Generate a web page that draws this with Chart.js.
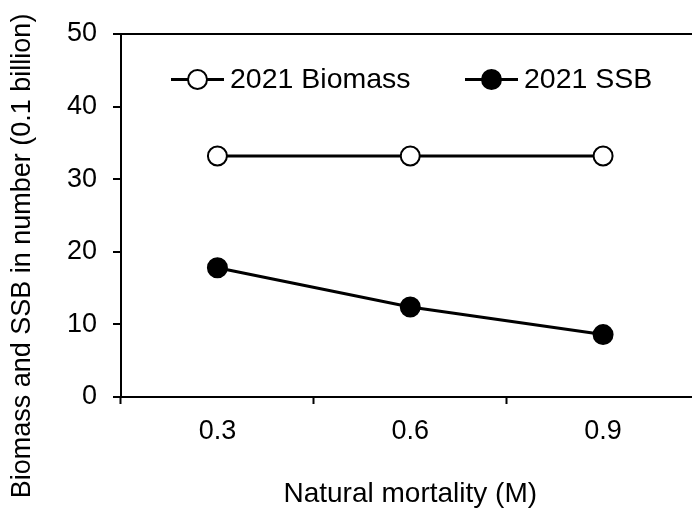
<!DOCTYPE html>
<html>
<head>
<meta charset="utf-8">
<script src="https://cdn.jsdelivr.net/npm/chart.js@4"></script>
<style>
  html, body { margin: 0; padding: 0; background: #fff; overflow: hidden; }
  canvas { display: block; }
</style>
</head>
<body>
<canvas id="myChart" width="711" height="510"></canvas>
<script>
const ctx = document.getElementById('myChart');

// natural mortality scenarios
const mortality = ['0.3', '0.6', '0.9'];
const biomass2021 = [33.2, 33.2, 33.2];
const ssb2021 = [17.8, 12.4, 8.6];
const seriesNames = ['2021 Biomass', '2021 SSB'];
const yTitle = 'Biomass and SSB in number (0.1 billion)';

const FONT = 'Liberation Sans, Arial, sans-serif';

// legend drawn inside the plot: line, marker, label
const innerLegend = {
  id: 'innerLegend',
  afterDatasetsDraw(chart) {
    const c = chart.ctx;
    const area = chart.chartArea;
    const y = area.top + 45.5;
    const items = [
      { x: area.left + 50, fill: '#fff', text: seriesNames[0] },
      { x: area.left + 344, fill: '#000', text: seriesNames[1] }
    ];
    c.save();
    items.forEach(it => {
      c.strokeStyle = '#000';
      c.lineWidth = 3;
      c.beginPath();
      c.moveTo(it.x, y);
      c.lineTo(it.x + 53, y);
      c.stroke();
      c.beginPath();
      c.arc(it.x + 26.5, y, 9.5, 0, Math.PI * 2);
      c.fillStyle = it.fill;
      c.fill();
      c.lineWidth = 2;
      c.stroke();
      c.fillStyle = '#000';
      c.font = '28.5px ' + FONT;
      c.textBaseline = 'middle';
      c.textAlign = 'left';
      c.fillText(it.text, it.x + 59, y + 1);
    });
    c.restore();
  }
};

// y axis title sits lower than the plot centre, so draw it here
const sideTitle = {
  id: 'sideTitle',
  afterDraw(chart) {
    const c = chart.ctx;
    c.save();
    c.translate(23, 256);
    c.rotate(-Math.PI / 2);
    c.fillStyle = '#000';
    c.font = '27px ' + FONT;
    c.textAlign = 'center';
    c.textBaseline = 'middle';
    c.fillText(yTitle, 0, 0);
    c.restore();
  }
};

new Chart(ctx, {
  type: 'line',
  data: {
    labels: mortality,
    datasets: [{
      label: seriesNames[0],
      data: biomass2021,
      borderColor: '#000',
      borderWidth: 3,
      pointRadius: 9.5,
      pointHoverRadius: 9.5,
      pointBorderWidth: 2,
      pointBackgroundColor: '#fff',
      pointBorderColor: '#000'
    }, {
      label: seriesNames[1],
      data: ssb2021,
      borderColor: '#000',
      borderWidth: 3,
      pointRadius: 9.5,
      pointHoverRadius: 9.5,
      pointBorderWidth: 2,
      pointBackgroundColor: '#000',
      pointBorderColor: '#000'
    }]
  },
  options: {
    responsive: false,
    animation: false,
    layout: { padding: { top: 34, right: 0, left: 0, bottom: 0 } },
    plugins: {
      legend: { display: false },
      tooltip: { enabled: false }
    },
    scales: {
      x: {
        offset: true,
        afterFit: s => { s.height = 113; },
        border: { color: '#000', width: 2 },
        grid: {
          offset: true,
          color: 'transparent',
          tickColor: '#000',
          tickLength: 7,
          tickWidth: 2
        },
        ticks: {
          color: '#000',
          padding: 11,
          font: { family: FONT, size: 27 }
        },
        title: {
          display: true,
          text: 'Natural mortality (M)',
          color: '#000',
          font: { family: FONT, size: 28, lineHeight: 1 },
          padding: { top: 0, bottom: 2 }
        }
      },
      y: {
        min: 0,
        max: 50,
        afterFit: s => { s.width = 121; },
        border: { color: '#000', width: 2 },
        grid: {
          color: c => c.tick && c.tick.value === 50 ? '#000' : 'transparent',
          lineWidth: 2,
          tickColor: '#000',
          tickLength: 8,
          tickWidth: 2
        },
        ticks: {
          stepSize: 10,
          color: '#000',
          padding: 16,
          font: { family: FONT, size: 27 }
        }
      }
    }
  },
  plugins: [innerLegend, sideTitle]
});
</script>
</body>
</html>
